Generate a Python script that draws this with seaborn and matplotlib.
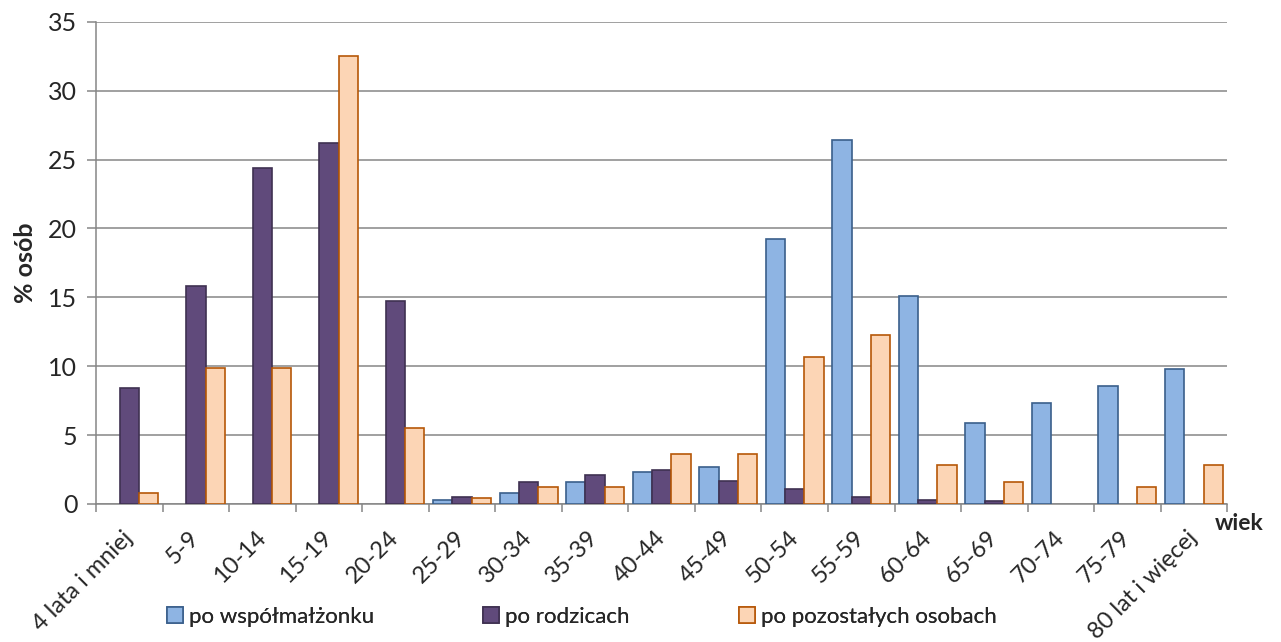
import numpy as np
import pandas as pd
import matplotlib
matplotlib.use("Agg")
import matplotlib.pyplot as plt
from matplotlib.patches import Patch
import seaborn as sns

# age groups and the three series (% of persons)
age_groups = ["4 lata i mniej", "5-9", "10-14", "15-19", "20-24", "25-29", "30-34",
              "35-39", "40-44", "45-49", "50-54", "55-59", "60-64", "65-69",
              "70-74", "75-79", "80 lat i więcej"]
spouse = [0, 0, 0, 0, 0, 0.3, 0.8, 1.6, 2.3, 2.7, 19.2, 26.4, 15.1, 5.9, 7.3, 8.6, 9.8]
parents = [8.4, 15.8, 24.4, 26.2, 14.7, 0.5, 1.6, 2.1, 2.5, 1.7, 1.1, 0.5, 0.3, 0.2, 0, 0, 0]
others = [0.8, 9.9, 9.9, 32.5, 5.5, 0.4, 1.2, 1.2, 3.6, 3.6, 10.7, 12.3, 2.8, 1.6, 0, 1.2, 2.8]
series_names = ["po współmałżonku", "po rodzicach", "po pozostałych osobach"]

fills = ["#8EB4E3", "#604A7B", "#FCD5B5"]
edges = ["#3A5F8B", "#3F3151", "#B65708"]
grid_col = "#868686"

df = pd.DataFrame({
    "wiek": age_groups * 3,
    "seria": sum([[s] * len(age_groups) for s in series_names], []),
    "val": spouse + parents + others,
})

sns.set_style("white")
plt.rcParams["font.family"] = ["Lato", "DejaVu Sans"]

fig = plt.figure(figsize=(12.81, 6.42), dpi=100)
ax = fig.add_axes([0.075, 0.215, 0.883, 0.751])

sns.barplot(data=df, x="wiek", y="val", hue="seria", order=age_groups,
            hue_order=series_names, palette=fills, saturation=1, width=0.87,
            dodge=True, legend=False, ax=ax, zorder=3)

for cont, ec in zip(ax.containers, edges):
    for bar in cont:
        bar.set_edgecolor(ec)
        bar.set_linewidth(1.2)
        if bar.get_height() == 0:
            bar.set_visible(False)

ax.set_ylim(0, 35)
ax.set_xlim(-0.5, len(age_groups) - 0.5)
ax.set_yticks(np.arange(0, 36, 5))
ax.yaxis.grid(True, color=grid_col, linewidth=1.1, zorder=0)
ax.set_axisbelow(True)

for s in ["top", "right"]:
    ax.spines[s].set_visible(False)
for s in ["left", "bottom"]:
    ax.spines[s].set_color(grid_col)
    ax.spines[s].set_linewidth(1.1)

ax.tick_params(axis="y", direction="out", length=6.5, width=1.1, color=grid_col,
               labelsize=18, pad=7, left=True)
ax.set_xticks(np.arange(-0.5, len(age_groups), 1.0), minor=True)
ax.tick_params(axis="x", which="minor", direction="out", length=6, width=1.1,
               color=grid_col, bottom=True)
ax.tick_params(axis="x", which="major", length=0, pad=22, labelsize=17)
ax.set_xticks(range(len(age_groups)))
ax.set_xticklabels(age_groups, rotation=45, ha="right", va="center",
                   rotation_mode="anchor")

ax.set_xlabel("")
ax.set_ylabel("% osób", fontsize=18, fontweight="bold", labelpad=8)
fig.text(0.948, 0.185, "wiek", fontsize=16.5, fontweight="bold", ha="left", va="center")

# legend entries placed one by one, like the spreadsheet layout
legend_x = [167, 483, 739]
for name, f, e, lx in zip(series_names, fills, edges, legend_x):
    lg = fig.legend([Patch(facecolor=f, edgecolor=e, linewidth=1.2)], [name],
                    loc="center left", bbox_to_anchor=(lx / 1281, 0.039),
                    frameon=False, fontsize=16, handlelength=0.7, handleheight=0.7,
                    handletextpad=0.3, borderaxespad=0, borderpad=0)
    fig.add_artist(lg)

fig.savefig("out.png", dpi=100)
